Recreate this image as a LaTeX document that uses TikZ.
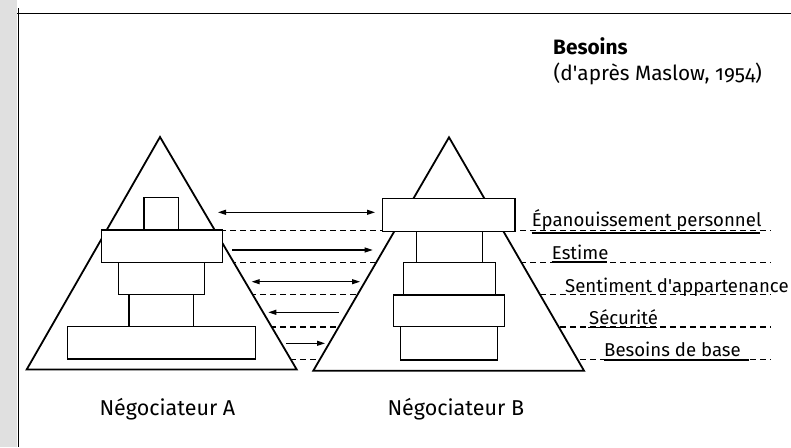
\documentclass[tikz,border=0pt]{standalone}
\usepackage{fontspec}
\setmainfont{Fira Sans}[Numbers=OldStyle]
\usetikzlibrary{arrows.meta}

\tikzset{
  pyr/.style={draw, line width=1.8pt, line join=miter, fill=white},
  blk/.style={draw, fill=white, line width=1.2pt, inner sep=0pt, outer sep=0pt, anchor=north west},
  level/.style={dashed, dash pattern=on 6pt off 4pt, line width=1.1pt},
  uline/.style={line width=1.8pt},
  link/.style={line width=1.1pt},
  tip/.tip={Triangle[length=8pt, width=5pt]},
  lbl/.style={anchor=base west, inner sep=0pt, font=\fontsize{18.6}{22}\selectfont},
  negolabel/.style={anchor=base west, inner sep=0pt, font=\fontsize{21.5}{25}\selectfont},
  headlabel/.style={anchor=base west, inner sep=0pt, font=\fontsize{20.8}{25}\selectfont},
}

\begin{document}
\begin{tikzpicture}[x=1pt, y=-1pt]
  \useasboundingbox (0,0) rectangle (791,447);

  % page margin strip and frame
  \fill[black!12] (0,0) rectangle (16.5,447);
  \draw[line width=1.3pt] (17,13.3) -- (791,13.3);
  \draw[line width=1.5pt] (18.3,8) -- (18.3,447);

  % level lines
  \foreach \y/\n in {230.7/1, 262.5/2, 294.5/3, 327/4, 359.5/5} {
    \coordinate (ls\n) at (160,\y);
    \coordinate (le\n) at (771,\y);
    \draw[level] (ls\n) -- (le\n);
  }

  % pyramid A
  \coordinate (ta) at (160,137);
  \coordinate (la) at (26.7,369.5);
  \coordinate (ra) at (296.7,369.5);
  \draw[pyr] (ta) -- (la) -- (ra) -- cycle;
  \node[blk, minimum width=34.7pt,  minimum height=32.7pt] (a1) at (144,197.3) {};
  \node[blk, minimum width=64.3pt,  minimum height=32pt]   (a4) at (129,294.7) {};
  \node[blk, minimum width=86pt,    minimum height=32pt]   (a3) at (118.3,262.7) {};
  \node[blk, minimum width=121pt,   minimum height=32.7pt] (a2) at (101.7,230) {};
  \node[blk, minimum width=188.4pt, minimum height=32.3pt] (a5) at (67.3,326.7) {};

  % pyramid B
  \coordinate (tb) at (449,137.3);
  \coordinate (lb) at (313.3,370.7);
  \coordinate (rb) at (584,370.7);
  \draw[pyr] (tb) -- (lb) -- (rb) -- cycle;
  \node[blk, minimum width=65.6pt,  minimum height=31pt]   (b2) at (416.7,231.7) {};
  \node[blk, minimum width=92.4pt,  minimum height=32.3pt] (b3) at (403.3,262.7) {};
  \node[blk, minimum width=96.6pt,  minimum height=33.3pt] (b5) at (400.7,326.7) {};
  \node[blk, minimum width=111pt,   minimum height=31.7pt] (b4) at (393.3,295) {};
  \node[blk, minimum width=132.3pt, minimum height=33.4pt] (b1) at (382.7,198.3) {};

  % exchanges between the two negotiators
  \coordinate (p1) at (218,212.3);   \coordinate (q1) at (375,212.3);
  \coordinate (p2) at (232,250);     \coordinate (q2) at (372.7,250);
  \coordinate (p3) at (251.7,281.7); \coordinate (q3) at (360,281.7);
  \coordinate (p4) at (268.3,312.3); \coordinate (q4) at (339,312.3);
  \coordinate (p5) at (286,343.3);   \coordinate (q5) at (325,343.3);
  \draw[link, tip-tip] (p1) -- (q1);
  \draw[link, -tip]    (p2) -- (q2);
  \draw[link, tip-tip] (p3) -- (q3);
  \draw[link, tip-]    (p4) -- (q4);
  \draw[link, -tip]    (p5) -- (q5);

  % level names
  \node[lbl] (n1) at (531.7,226.5) {Épanouissement personnel};
  \node[lbl] (n2) at (551.7,259.5) {Estime};
  \node[lbl] (n3) at (565,292) {Sentiment d\textquotesingle appartenance};
  \node[lbl] (n4) at (589,324) {Sécurité};
  \node[lbl] (n5) at (604,356) {Besoins de base};
  \draw[uline] (531.7,233) -- (760,233);
  \draw[uline] (551.7,262.3) -- (606.7,262.3);
  \draw[uline] (588,327.5) -- (656.7,327.5);
  \draw[uline] (604,360) -- (749,360);

  % titles
  \node[headlabel, font=\fontsize{20.8}{25}\selectfont\bfseries] (t1) at (553,54.5) {Besoins};
  \node[headlabel] (t2) at (553.5,80.7) {(d\textquotesingle après Maslow, 1954)};
  \node[negolabel] (na) at (99.3,415) {Négociateur A};
  \node[negolabel] (nb) at (387.3,415) {Négociateur B};
\end{tikzpicture}
\end{document}
